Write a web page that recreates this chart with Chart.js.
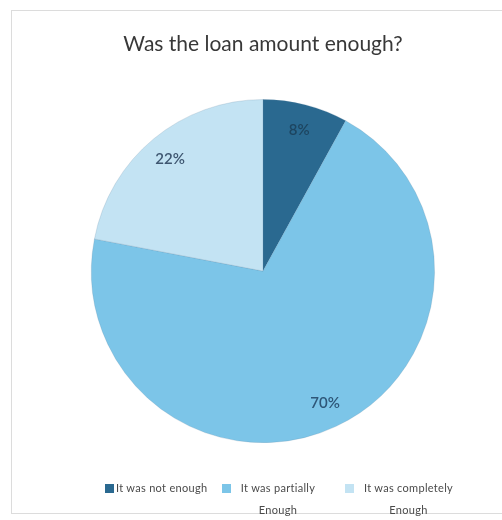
<!DOCTYPE html>
<html lang="en">
<head>
  <meta charset="UTF-8" />
  <title>Was the loan amount enough?</title>
  <script src="https://cdn.jsdelivr.net/npm/chart.js"></script>
  <style>
    html, body { margin: 0; padding: 0; background: #fff; }
    #wrap { position: relative; width: 502px; height: 520px; overflow: hidden; }
    #frame { position: absolute; left: 11px; top: 10px; width: 500px; height: 504px;
             border: 1px solid #dcdcdc; box-sizing: border-box; }
    #wrap canvas { position: absolute; left: 0; top: 0; }
    #legend { position: absolute; top: 482px; left: 0; width: 502px; font-family: Lato, sans-serif;
              font-size: 11px; letter-spacing: 0.3px; color: #4a4a4a; }
    .item { position: absolute; display: flex; align-items: flex-start; }
    .sw { width: 9px; height: 9px; margin-top: 2px; margin-right: 2px; flex: none; }
    .txt { text-align: center; line-height: 22px; margin-top: -5px; }
  </style>
</head>
<body>
<div id="wrap">
  <div id="frame"></div>
  <canvas id="loanChart" width="502" height="520"></canvas>
  <div id="legend"></div>
</div>
<script>
  const labels = ["It was not enough", "It was partially Enough", "It was completely Enough"];
  const values = [8, 70, 22];
  const colors = ["#2a6990", "#7cc5e8", "#c3e3f3"];
  const labelColors = ["#1d4560", "#2e5677", "#3e5670"];

  // percentage labels inside each slice
  const sliceLabels = {
    id: "sliceLabels",
    afterDatasetsDraw(chart) {
      const ctx = chart.ctx;
      const meta = chart.getDatasetMeta(0);
      const total = values.reduce((a, b) => a + b, 0);
      ctx.save();
      ctx.font = "600 15px Lato, sans-serif";
      ctx.textAlign = "center";
      ctx.textBaseline = "middle";
      meta.data.forEach((arc, i) => {
        const p = arc.getProps(["x", "y", "startAngle", "endAngle", "outerRadius"], true);
        const mid = (p.startAngle + p.endAngle) / 2;
        const r = p.outerRadius * 0.85;
        ctx.fillStyle = labelColors[i];
        ctx.fillText(Math.round(values[i] / total * 100) + "%",
          p.x + Math.cos(mid) * r, p.y + Math.sin(mid) * r);
      });
      ctx.restore();
    }
  };

  new Chart(document.getElementById("loanChart"), {
    type: "pie",
    data: {
      labels,
      datasets: [{
        data: values,
        backgroundColor: colors,
        borderColor: "rgba(90,130,160,0.35)",
        borderWidth: 0.6
      }]
    },
    options: {
      responsive: false,
      animation: false,
      layout: { padding: { top: 32, left: 91, right: 67, bottom: 77 } },
      plugins: {
        title: {
          display: true,
          text: "Was the loan amount enough?",
          color: "#383838",
          font: { family: "Lato", size: 21, weight: "normal" },
          padding: { top: 0, bottom: 42 }
        },
        legend: { display: false },
        tooltip: { enabled: false }
      }
    },
    plugins: [sliceLabels]
  });

  // legend with wrapped labels like the original
  const legendPos = [{ left: 105, w: 120 }, { left: 222, w: 90 }, { left: 345, w: 105 }];
  const legend = document.getElementById("legend");
  labels.forEach((lab, i) => {
    const item = document.createElement("div");
    item.className = "item";
    item.style.left = legendPos[i].left + "px";
    const sw = document.createElement("div");
    sw.className = "sw";
    sw.style.background = colors[i];
    const t = document.createElement("div");
    t.className = "txt";
    t.style.maxWidth = legendPos[i].w + "px";
    t.textContent = lab;
    item.appendChild(sw);
    item.appendChild(t);
    legend.appendChild(item);
  });
</script>
</body>
</html>
